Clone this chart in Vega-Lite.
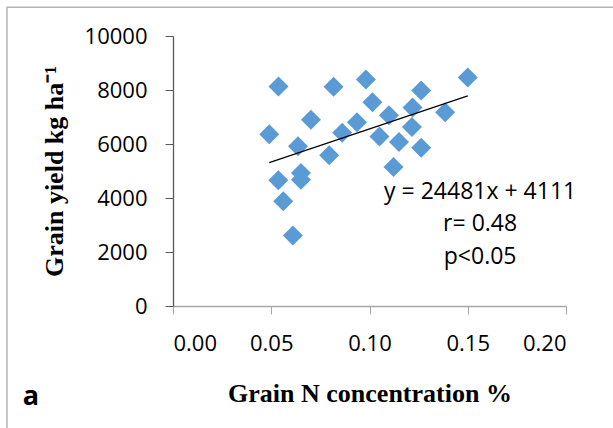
{
  "$schema": "https://vega.github.io/schema/vega-lite/v6.json",
  "width": 393,
  "height": 270,
  "autosize": "none",
  "padding": {"left": 173, "top": 36, "right": 47, "bottom": 122},
  "background": "white",
  "config": {
    "view": {"stroke": null},
    "axis": {"grid": false, "labelColor": "black", "titleColor": "black", "labelFont": "Open Sans", "labelFontSize": 22, "titleFont": "Liberation Serif", "titleFontWeight": "bold", "titleFontSize": 26}
  },
  "datasets": {
    "points": [
      {"n": 0.0537, "yield": 8130},
      {"n": 0.0817, "yield": 8120},
      {"n": 0.0702, "yield": 6900},
      {"n": 0.0490, "yield": 6360},
      {"n": 0.0861, "yield": 6420},
      {"n": 0.0636, "yield": 5915},
      {"n": 0.0795, "yield": 5580},
      {"n": 0.0651, "yield": 4930},
      {"n": 0.0651, "yield": 4680},
      {"n": 0.0536, "yield": 4660},
      {"n": 0.0561, "yield": 3880},
      {"n": 0.0610, "yield": 2610},
      {"n": 0.0982, "yield": 8385},
      {"n": 0.1500, "yield": 8460},
      {"n": 0.1263, "yield": 7980},
      {"n": 0.1015, "yield": 7545},
      {"n": 0.1385, "yield": 7175},
      {"n": 0.1099, "yield": 7065},
      {"n": 0.1219, "yield": 7350},
      {"n": 0.0936, "yield": 6805},
      {"n": 0.1216, "yield": 6630},
      {"n": 0.1051, "yield": 6275},
      {"n": 0.1150, "yield": 6075},
      {"n": 0.1263, "yield": 5865},
      {"n": 0.1122, "yield": 5150}
    ],
    "trend": [
      {"n": 0.049, "yield": 5310},
      {"n": 0.150, "yield": 7783}
    ],
    "notes": [
      {"n": 0.1563, "yield": 4230, "label": "y = 24481x + 4111"},
      {"n": 0.1563, "yield": 3030, "label": "r= 0.48"},
      {"n": 0.1563, "yield": 1830, "label": "p<0.05"}
    ],
    "panel": [
      {"label": "a"}
    ]
  },
  "layer": [
    {
      "data": {"name": "panel"},
      "mark": {"type": "rect", "fill": null, "stroke": "#b3b3b3", "strokeWidth": 1.5, "clip": false},
      "encoding": {
        "x": {"datum": -0.0845, "type": "quantitative", "scale": {"domain": [0, 0.2]}},
        "x2": {"datum": 0.3},
        "y": {"datum": 11063, "type": "quantitative", "scale": {"domain": [0, 10000]}},
        "y2": {"datum": -8000}
      }
    },
    {
      "data": {"name": "points"},
      "mark": {"type": "point", "shape": "diamond", "filled": true, "size": 400, "color": "#5B9BD5", "opacity": 1},
      "encoding": {
        "x": {"field": "n", "type": "quantitative", "scale": {"domain": [0, 0.2]},
          "axis": {"values": [0, 0.05, 0.1, 0.15, 0.2], "format": ".2f", "title": "Grain N concentration %", "domainColor": "#a6a6a6", "tickColor": "#a6a6a6", "tickSize": 8, "labelPadding": 19, "titlePadding": 26, "domainWidth": 1.3}},
        "y": {"field": "yield", "type": "quantitative", "scale": {"domain": [0, 10000]},
          "axis": {"values": [0, 2000, 4000, 6000, 8000, 10000], "format": "d", "title": "Grain yield kg ha⁻¹", "domainColor": "#595959", "tickColor": "#595959", "tickSize": 8, "labelPadding": 18, "titlePadding": 17, "domainWidth": 1.3}}
      }
    },
    {
      "data": {"name": "trend"},
      "mark": {"type": "line", "color": "black", "strokeWidth": 1.2},
      "encoding": {
        "x": {"field": "n", "type": "quantitative"},
        "y": {"field": "yield", "type": "quantitative"}
      }
    },
    {
      "data": {"name": "notes"},
      "mark": {"type": "text", "font": "Open Sans", "fontSize": 23, "align": "center", "baseline": "middle", "color": "black"},
      "encoding": {
        "x": {"field": "n", "type": "quantitative"},
        "y": {"field": "yield", "type": "quantitative"},
        "text": {"field": "label"}
      }
    },
    {
      "data": {"name": "panel"},
      "mark": {"type": "text", "font": "Open Sans", "fontWeight": "bold", "fontSize": 27, "align": "left", "baseline": "alphabetic", "color": "black", "clip": false},
      "encoding": {
        "x": {"datum": -0.0765, "type": "quantitative"},
        "y": {"datum": -3680, "type": "quantitative"},
        "text": {"field": "label"}
      }
    }
  ]
}
